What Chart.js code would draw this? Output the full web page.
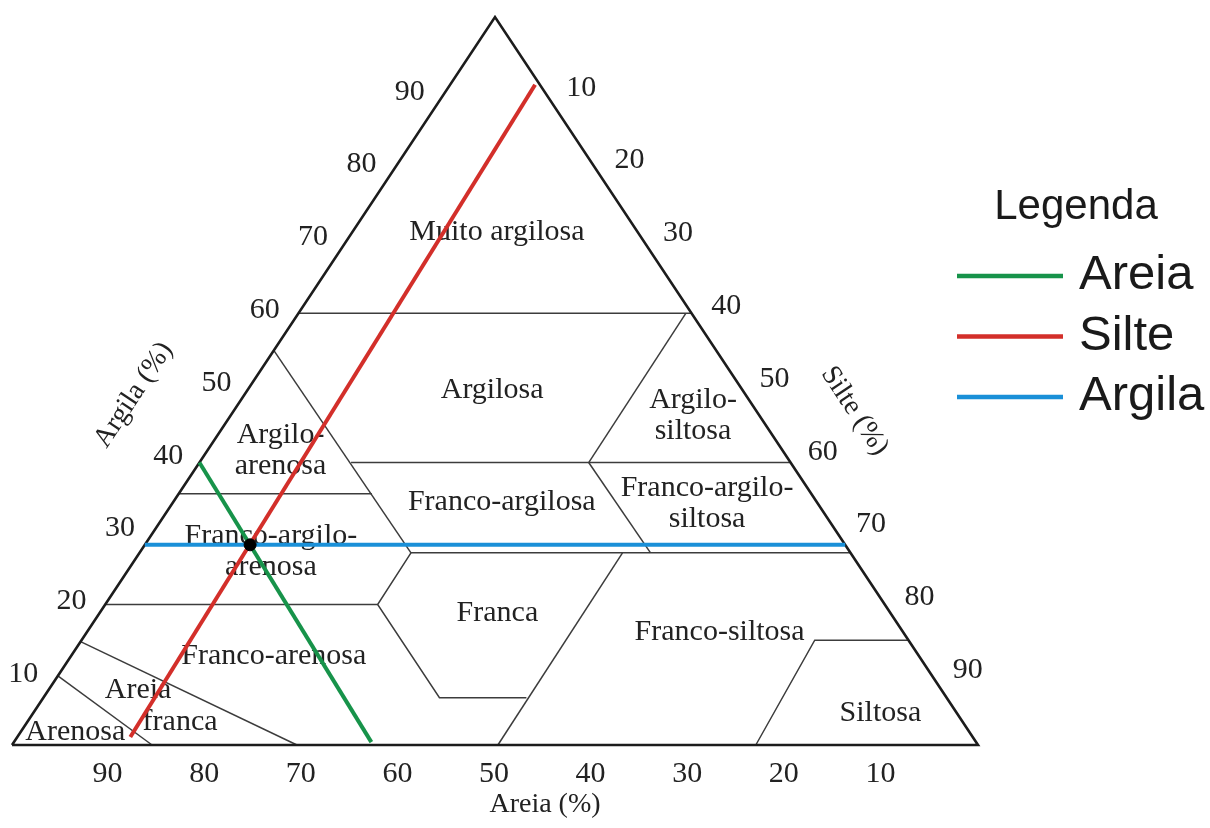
<!DOCTYPE html>
<html><head><meta charset="utf-8">
<script src="https://cdn.jsdelivr.net/npm/chart.js@4.4.0/dist/chart.umd.min.js"></script>
<style>html,body{margin:0;padding:0;background:#fff;} #wrap{width:1210px;height:828px;position:relative;}</style>
</head><body><div id="wrap"><canvas id="c"></canvas></div>
<script>
// All points as [areia, silte, argila] in %
const ticksAreia = [90, 80, 70, 60, 50, 40, 30, 20, 10];
const ticksArgila = [10, 20, 30, 40, 50, 60, 70, 80, 90];
const ticksSilte = [10, 20, 30, 40, 50, 60, 70, 80, 90];

const contorno = [[100, 0, 0], [0, 100, 0], [0, 0, 100], [100, 0, 0]];
const limites = [
  [[40.7, 0, 59.3], [0, 40.7, 59.3]],
  [[45.8, 0, 54.2], [45.5, 28.1, 26.4]],
  [[65.5, 0, 34.5], [45.5, 20.0, 34.5]],
  [[45.5, 15.7, 38.8], [0, 61.2, 38.8]],
  [[0.6, 40.1, 59.3], [20.9, 40.3, 38.8]],
  [[20.9, 40.3, 38.8], [20.7, 52.9, 26.4]],
  [[45.5, 28.1, 26.4], [0, 73.6, 26.4]],
  [[45.5, 28.1, 26.4], [52.5, 28.2, 19.3], [52.5, 41.0, 6.5], [43.5, 50.0, 6.5]],
  [[23.6, 50.0, 26.4], [49.7, 50.3, 0]],
  [[80.7, 0, 19.3], [52.5, 28.2, 19.3]],
  [[0, 85.6, 14.4], [9.7, 75.9, 14.4], [23.0, 77.0, 0]],
  [[85.8, 0, 14.2], [70.5, 29.5, 0]],
  [[90.5, 0, 9.5], [85.5, 14.5, 0]]
];
const linhaAreia = [[61.2, 0, 38.8], [62.6, 37.0, 0.4]];
const linhaSilte = [[87.2, 11.7, 1.1], [0.5, 8.8, 90.7]];
const linhaArgila = [[72.5, 0, 27.5], [0, 72.5, 27.5]];
const ponto = [[61.6, 10.9, 27.5]];

const classes = ['Muito argilosa', 'Argilosa', 'Argilo-\nsiltosa', 'Argilo-\narenosa', 'Franco-argilosa',
  'Franco-argilo-\nsiltosa', 'Franco-argilo-\narenosa', 'Franca', 'Franco-siltosa', 'Franco-arenosa',
  'Areia', 'franca', 'Arenosa', 'Siltosa'];
const classePos = [[14.6, 15.0, 70.4], [25.9, 25.3, 48.8], [6.9, 47.9, 45.2], [52.0, 7.6, 40.4], [32.6, 34.0, 33.4],
  [11.5, 55.4, 33.1], [59.9, 13.5, 26.6], [40.7, 41.2, 18.1], [19.0, 65.5, 15.5], [66.8, 21.0, 12.2],
  [83.2, 9.3, 7.5], [81.0, 15.8, 3.2], [92.6, 5.7, 1.7], [7.9, 87.7, 4.4]];

const tituloAreia = 'Areia (%)';
const tituloArgila = 'Argila (%)';
const tituloSilte = 'Silte (%)';
const tituloLegenda = 'Legenda';

const tri = p => ({ x: p[1] + p[2] / 2, y: p[2] });

const verde = '#17934a', vermelho = '#d32f2a', azul = '#1a90d8';
const base = { showLine: true, pointRadius: 0, fill: false, clip: false, tension: 0 };

const datasets = [
  Object.assign({ label: 'contorno', data: contorno.map(tri), borderColor: '#1c1c1c', borderWidth: 2.6, order: 9 }, base),
  ...limites.map(l => Object.assign({ label: 'limite', data: l.map(tri), borderColor: '#3c3c3c', borderWidth: 1.5, order: 10 }, base)),
  Object.assign({ label: 'Areia', data: linhaAreia.map(tri), borderColor: verde, borderWidth: 4, order: 2, legenda: true }, base),
  Object.assign({ label: 'Silte', data: linhaSilte.map(tri), borderColor: vermelho, borderWidth: 4, order: 3, legenda: true }, base),
  Object.assign({ label: 'Argila', data: linhaArgila.map(tri), borderColor: azul, borderWidth: 4, order: 1, legenda: true }, base),
  { label: 'ponto', data: ponto.map(tri), showLine: false, pointRadius: 6, pointBackgroundColor: '#000', pointBorderColor: '#000', order: 0, clip: false }
];

const SERIF = '"Liberation Serif", "DejaVu Serif", serif';
const SANS = '"Liberation Sans", Arial, sans-serif';

const textos = {
  id: 'textos',
  beforeDatasetsDraw(chart) {
    const ctx = chart.ctx, xs = chart.scales.x, ys = chart.scales.y;
    const px = p => { const t = tri(p); return [xs.getPixelForValue(t.x), ys.getPixelForValue(t.y)]; };
    ctx.save();
    ctx.fillStyle = '#222';
    ctx.font = '30px ' + SERIF;
    ctx.textAlign = 'center';
    ctx.textBaseline = 'middle';
    classes.forEach((c, i) => {
      const [x, y] = px(classePos[i]);
      const lines = c.split('\n');
      const lh = 31;
      lines.forEach((ln, k) => ctx.fillText(ln, x, y + (k - (lines.length - 1) / 2) * lh));
    });
    // ticks
    ctx.font = '30px ' + SERIF;
    ticksAreia.forEach(v => {
      const [x, y] = px([v, 100 - v, 0]);
      ctx.fillText(String(v), x - 1, y + 29);
    });
    ticksArgila.forEach(v => {
      const [x, y] = px([100 - v, 0, v]);
      ctx.fillText(String(v), x - 37, y + 2);
    });
    ticksSilte.forEach(v => {
      const [x, y] = px([0, v, 100 - v]);
      ctx.fillText(String(v), x + 38, y - 2);
    });
    // axis titles
    ctx.font = '28px ' + SERIF;
    const [ax, ay] = px([50, 50, 0]);
    ctx.fillText(tituloAreia, ax + 50, ay + 60);
    const [l0x, l0y] = px([100, 0, 0]), [l1x, l1y] = px([0, 0, 100]), [r0x, r0y] = px([0, 100, 0]);
    const angL = Math.atan2(l1y - l0y, l1x - l0x);
    const angR = Math.atan2(r0y - l1y, r0x - l1x);
    const [gx, gy] = px([50, 0, 50]);
    ctx.save(); ctx.translate(gx - 120, gy + 14); ctx.rotate(angL); ctx.fillText(tituloArgila, 0, 0); ctx.restore();
    const [sx, sy] = px([0, 50, 50]);
    ctx.save(); ctx.translate(sx + 118, sy + 30); ctx.rotate(angR); ctx.fillText(tituloSilte, 0, 0); ctx.restore();
    ctx.restore();
  },
  afterDraw(chart) {
    const ctx = chart.ctx;
    ctx.save();
    ctx.fillStyle = '#1a1a1a';
    ctx.font = '42px ' + SANS;
    ctx.textAlign = 'center';
    ctx.textBaseline = 'alphabetic';
    ctx.fillText(tituloLegenda, 1076, 219);
    const itens = chart.data.datasets.filter(d => d.legenda);
    itens.forEach((d, i) => {
      const y = 276 + i * 60.5;
      ctx.strokeStyle = d.borderColor; ctx.lineWidth = 4.5; ctx.lineCap = 'butt';
      ctx.beginPath(); ctx.moveTo(957, y); ctx.lineTo(1063, y); ctx.stroke();
      ctx.font = '49px ' + SANS; ctx.textAlign = 'left';
      ctx.fillText(d.label, 1079, y + 13);
    });
    ctx.restore();
  }
};

new Chart(document.getElementById('c'), {
  type: 'scatter',
  data: { datasets },
  options: {
    responsive: true, maintainAspectRatio: false, animation: false,
    layout: { padding: { left: 12, right: 232, top: 17, bottom: 83 } },
    scales: {
      x: { type: 'linear', min: 0, max: 100, display: false },
      y: { type: 'linear', min: 0, max: 100, display: false }
    },
    plugins: { legend: { display: false }, tooltip: { enabled: false } },
    events: []
  },
  plugins: [textos]
});
</script></body></html>
